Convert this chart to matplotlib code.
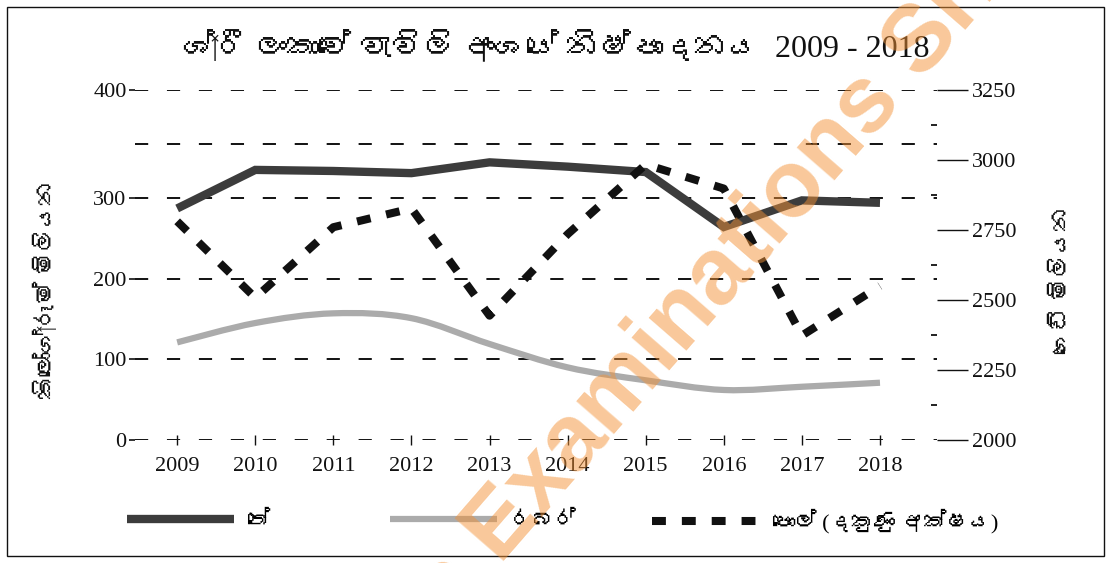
import numpy as np
import matplotlib
matplotlib.use("Agg")
import matplotlib.pyplot as plt
import matplotlib.font_manager as fm
from matplotlib.ft2font import FT2Font
from matplotlib.path import Path
from matplotlib.patches import PathPatch, Rectangle
from matplotlib.lines import Line2D
from matplotlib.ticker import FixedLocator

# ---------------- data ----------------
years = ["2009", "2010", "2011", "2012", "2013", "2014", "2015", "2016", "2017", "2018"]
tea = [287, 326, 325, 323, 333, 329, 324, 264, 297, 294]          # million kg (left axis)
rubber = [121, 145, 157, 151, 119, 90, 74, 62, 66, 71]             # million kg (left axis)
coconut = [2781, 2508, 2760, 2827, 2444, 2735, 2984, 2898, 2373, 2550]  # million nuts (right axis)

left_ticks = [0, 100, 200, 300, 400]
left_grid_extra = [350]
right_ticks = [2000, 2250, 2500, 2750, 3000, 3250]
right_minor = [2125, 2375, 2625, 2875, 3125]

title_txt = "ශ්‍රී ලංකාවේ වැවිලි අංශයේ නිෂ්පාදනය  2009 - 2018"
ylabel_left = "කිලෝග්‍රෑම් මිලියන"
ylabel_right = "ගෙඩි මිලියන"
leg_tea = "තේ"
leg_rubber = "රබර්"
leg_coconut = "පොල් (දකුණු අක්ෂය)"

# ---------------- fonts ----------------
sinhala = None
for f in fm.fontManager.ttflist:
    try:
        cm = FT2Font(f.fname).get_charmap()
        if 0x0DBD in cm and 0x0DC3 in cm and 0x0DCF in cm:
            sinhala = f.name
            break
    except Exception:
        pass
fam = ["Liberation Serif", "DejaVu Sans"]
if sinhala:
    fam = ["Liberation Serif", sinhala, "DejaVu Sans"]
plt.rcParams["font.family"] = fam
plt.rcParams["lines.scale_dashes"] = False

W, H = 1111, 563
fig = plt.figure(figsize=(W / 100, H / 100), dpi=100)

def fx(px):
    return px / W

def fy(py):
    return 1 - py / H

ax_l, ax_r, ax_t, ax_b = 135, 937, 90, 440
ax = fig.add_axes([fx(ax_l), fy(ax_b), fx(ax_r - ax_l), (ax_b - ax_t) / H])

# piecewise-linear left scale (upper band stretched as in the original)
K = 108 / 80.7

def fwd(v):
    v = np.asarray(v, float)
    return np.where(v <= 300, v, 300 + (v - 300) * K)

def inv(u):
    u = np.asarray(u, float)
    return np.where(u <= 300, u, 300 + (u - 300) / K)

ax.set_yscale("function", functions=(fwd, inv))
ax.set_ylim(0, 400)
x = np.arange(len(years))
ax.set_xlim(-0.54, 9.73)

for s in ax.spines.values():
    s.set_visible(False)

ax.yaxis.set_major_locator(FixedLocator(left_ticks))
ax.yaxis.set_minor_locator(FixedLocator(left_grid_extra))
ax.set_yticklabels([str(t) for t in left_ticks])
ax.tick_params(axis="y", which="major", direction="out", length=4, width=1.2, pad=2,
               labelsize=16, colors="#111111")
ax.tick_params(axis="y", which="minor", length=0)
ax.set_xticks(x)
ax.set_xticklabels(years)
ax.tick_params(axis="x", direction="inout", length=7, width=1.0, pad=9, labelsize=16,
               colors="#111111")

ax.grid(True, axis="y", which="both", color="#111111", linewidth=1.4,
        linestyle=(0, (9.5, 13.5)))
ax.set_axisbelow(True)

# tea
ax.plot(x, tea, color="#3c3c3c", linewidth=6.0, solid_joinstyle="miter",
        solid_capstyle="butt", zorder=4)

# rubber: smooth Catmull-Rom curve through the data points
px = x.astype(float)
py = np.asarray(rubber, float)
verts = [(px[0], py[0])]
codes = [Path.MOVETO]
n = len(px)
for i in range(n - 1):
    p0 = (px[max(i - 1, 0)], py[max(i - 1, 0)])
    p1 = (px[i], py[i])
    p2 = (px[i + 1], py[i + 1])
    p3 = (px[min(i + 2, n - 1)], py[min(i + 2, n - 1)])
    c1 = (p1[0] + (p2[0] - p0[0]) / 6, p1[1] + (p2[1] - p0[1]) / 6)
    c2 = (p2[0] - (p3[0] - p1[0]) / 6, p2[1] - (p3[1] - p1[1]) / 6)
    verts += [c1, c2, p2]
    codes += [Path.CURVE4] * 3
ax.add_patch(PathPatch(Path(verts, codes), fill=False, edgecolor="#ababab",
                       linewidth=4.5, capstyle="butt", zorder=3,
                       transform=ax.transData))

# right axis
ax2 = ax.twinx()
ax2.set_ylim(2000, 3250)
for s in ax2.spines.values():
    s.set_visible(False)
ax2.yaxis.set_major_locator(FixedLocator(right_ticks))
ax2.yaxis.set_minor_locator(FixedLocator(right_minor))
ax2.set_yticklabels([str(t) for t in right_ticks])
ax2.tick_params(axis="y", which="major", direction="out", length=22, width=1.0, pad=3,
                labelsize=16, colors="#111111")
ax2.tick_params(axis="y", which="minor", direction="in", length=4, width=1.3,
                colors="#111111")
ax2.plot(x, coconut, color="#111111", linewidth=5.8, linestyle=(0, (10, 11.5)),
         dash_capstyle="butt", zorder=5)

# title and axis labels
fig.text(fx(556), fy(47), title_txt, ha="center", va="center", fontsize=23,
         color="#111111")
fig.text(fx(47), fy(290), ylabel_left, rotation=90, ha="center", va="center",
         fontsize=17, color="#111111")
fig.text(fx(1063), fy(280), ylabel_right, rotation=90, ha="center", va="center",
         fontsize=17, color="#111111")

# legend (three entries placed as in the original)
leg_kw = dict(loc="center left", frameon=False, fontsize=16, handlelength=4.8,
              handletextpad=0.6, borderpad=0, borderaxespad=0)
fig.legend([Line2D([], [], color="#3c3c3c", linewidth=6.0, solid_capstyle="butt")],
           [leg_tea], bbox_to_anchor=(fx(127), fy(521)), **leg_kw)
fig.legend([Line2D([], [], color="#ababab", linewidth=4.5, solid_capstyle="butt")],
           [leg_rubber], bbox_to_anchor=(fx(390), fy(521)), **leg_kw)
fig.legend([Line2D([], [], color="#111111", linewidth=5.8, linestyle=(0, (10, 11.5)),
                   dash_capstyle="butt")],
           [leg_coconut], bbox_to_anchor=(fx(652), fy(521)), **leg_kw)

# frame around the figure
fig.add_artist(Rectangle((fx(7), fy(556)), fx(1104 - 7), (556 - 7) / H,
                         transform=fig.transFigure, fill=False, edgecolor="#111111",
                         linewidth=1.0))

# watermark
wm_kw = dict(rotation=49, rotation_mode="anchor", fontsize=68, fontweight="bold",
             color="#f39237", alpha=0.5, family=["Liberation Sans", "DejaVu Sans"],
             va="baseline", zorder=20)
fig.text(fx(500), fy(565), "Examinations Sri Lanka", ha="left", **wm_kw)
fig.text(fx(500), fy(565), "Past Papers ", ha="right", **wm_kw)

fig.savefig("out.png", dpi=100)
